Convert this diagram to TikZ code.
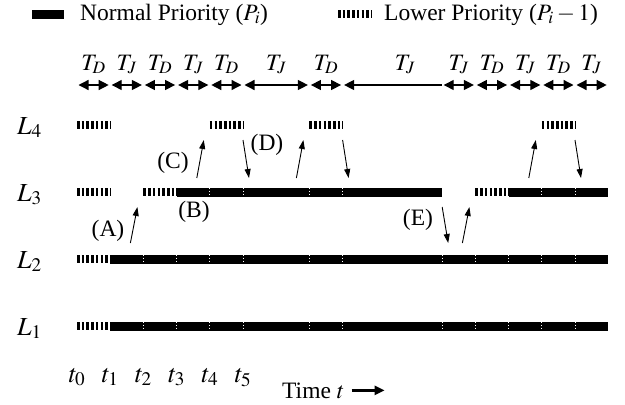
\documentclass[tikz,border=0pt]{standalone}
\usepackage{mathptmx}
\usepackage{fontspec}
\setmainfont{Liberation Serif}
\newfontfamily\figfont{Liberation Serif}
\usetikzlibrary{arrows.meta,calc}

\begin{document}
\begin{tikzpicture}[
  x=1pt, y=-1pt,
  every node/.style={inner sep=0pt},
  lbl/.style={font=\figfont\fontsize{23.5}{28}\selectfont},
  lvl/.style={font=\figfont\fontsize{26}{31}\selectfont},
  solidbar/.style={line width=9pt},
  lowbar/.style={line width=8pt, dash pattern=on 2.6pt off 2.1pt},
  notch/.style={white, line width=0.8pt, dash pattern=on 1.5pt off 1.5pt},
  interval/.style={{Triangle[length=10pt,width=10pt]}-{Triangle[length=10pt,width=10pt]},
                   line width=1.3pt, shorten <=1.5pt, shorten >=1.5pt},
  jump/.style={-{Triangle[length=9pt,width=6pt]}, line width=0.9pt}
]
\useasboundingbox (0,0) rectangle (625,405);

%% time grid and rows
\foreach \k in {0,...,16} \coordinate (t\k) at ({77+33.2*\k},0);
\coordinate (ar) at (0,85);
\foreach \i/\y in {4/125,3/192,2/259,1/326} {
  \coordinate (r\i) at (0,\y);
  \node[lvl, anchor=base west] (L\i) at (17,{\y+9}) {$L_\i$};
}

%% Legend
\draw[solidbar] (32,14) -- (64,14);
\node[lbl, anchor=base west] (keyN) at (80,20) {Normal Priority ($P_i$)};
\draw[lowbar] (338,14) -- (372,14);
\node[lbl, anchor=base west] (keyL) at (384,20) {Lower Priority ($P_i - 1$)};

%% Detection / jump intervals
\foreach \a/\b/\s in {0/1/D,1/2/J,2/3/D,3/4/J,4/5/D,5/7/J,7/8/D,
                      11/12/J,12/13/D,13/14/J,14/15/D,15/16/J} {
  \draw[interval] (t\a |- ar) -- (t\b |- ar);
  \node[lbl, anchor=base] (T\a) at ($(t\a)!0.5!(t\b)+(0,70)$) {$T_\s$};
}
\draw[{Triangle[length=10pt,width=10pt]}-, line width=1.3pt, shorten <=1.5pt]
  (t8 |- ar) -- (t11 |- ar);
\node[lbl, anchor=base] (T8) at (405,70) {$T_J$};

%% L4
\foreach \a/\b in {0/1,4/5,7/8,14/15} \draw[lowbar] (t\a |- r4) -- (t\b |- r4);

%% L3
\foreach \a/\b in {0/1,2/3,12/13} \draw[lowbar] (t\a |- r3) -- (t\b |- r3);
\draw[solidbar] (t3 |- r3) -- (t11 |- r3);
\draw[solidbar] (t13 |- r3) -- (t16 |- r3);
\foreach \k in {4,5,7,8,14,15} \draw[notch] (t\k |- r3) ++(0,-4.5) -- ++(0,9);

%% L2 and L1
\foreach \i in {2,1} {
  \draw[lowbar] (t0 |- r\i) -- (t1 |- r\i);
  \draw[solidbar] (t1 |- r\i) -- (t16 |- r\i);
  \foreach \k in {2,3,4,5,7,8,11,12,13,14,15}
    \draw[notch] (t\k |- r\i) ++(0,-4.5) -- ++(0,9);
}

%% Level changes
\foreach \k in {4,7,14} \draw[jump] ($(t\k)+(-13,178)$) -- ($(t\k)+(-6,140)$);
\foreach \k in {5,8,15} \draw[jump] ($(t\k)+(0,140)$) -- ($(t\k)+(6,178)$);
\foreach \k in {2,12} \draw[jump] ($(t\k)+(-13,243)$) -- ($(t\k)+(-6,207)$);
\draw[jump] ($(t11)+(0,207)$) -- ($(t11)+(6,243)$);

\node[lbl] (sA) at (108,231) {(A)};
\node[lbl] (sB) at (194,212) {(B)};
\node[lbl] (sC) at (173,163) {(C)};
\node[lbl] (sD) at (267,145) {(D)};
\node[lbl] (sE) at (418,220) {(E)};

%% Time axis
\foreach \k in {0,...,5} \node[lvl, anchor=base] (tl\k) at ($(t\k)+(0,382)$) {$t_\k$};
\node[lbl, anchor=base west] (time) at (282,398) {Time $t$};
\coordinate (tend) at ([xshift=40pt]time.east);
\draw[-{Triangle[length=10pt,width=9pt]}, line width=2.5pt]
  ([xshift=7pt]time.east) -- (tend);

\end{tikzpicture}
\end{document}
